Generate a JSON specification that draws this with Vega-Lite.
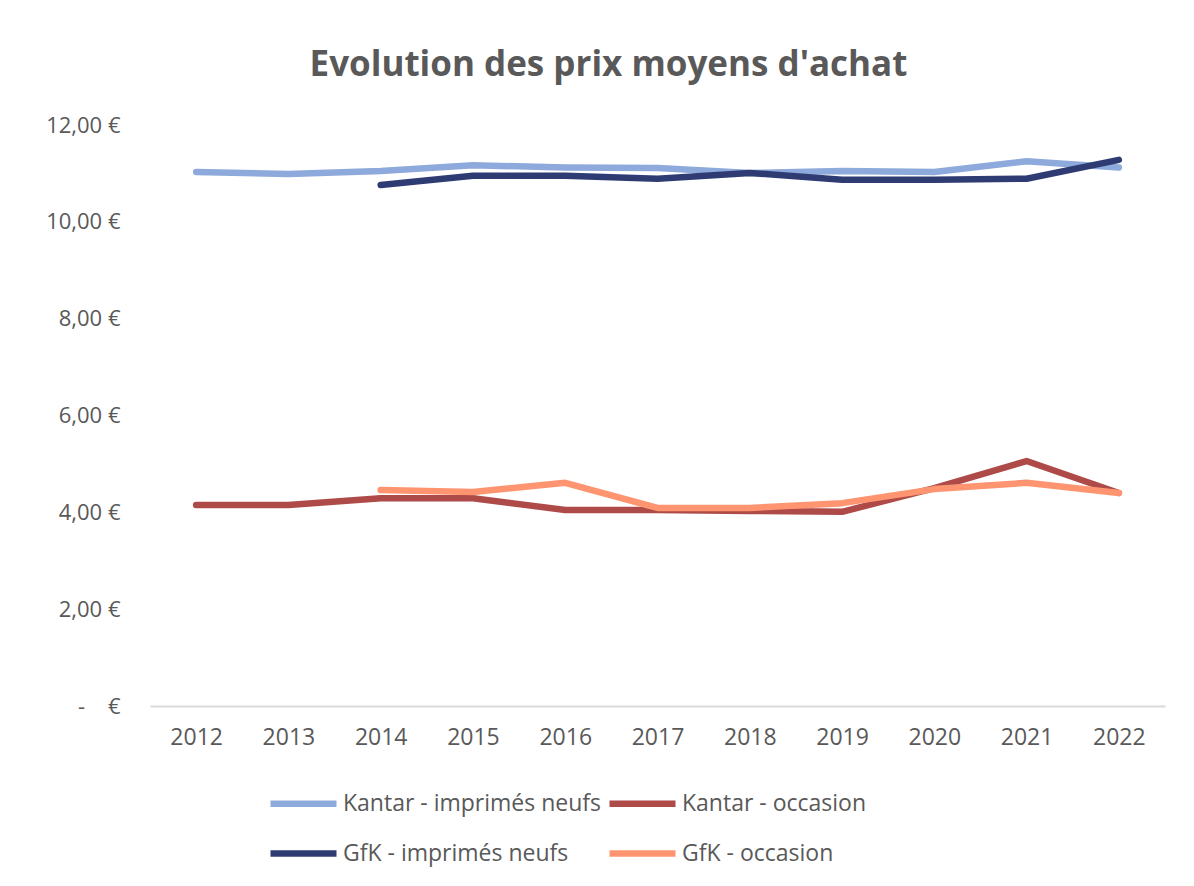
{
  "$schema": "https://vega.github.io/schema/vega-lite/v6.json",
  "autosize": {"type": "none"},
  "width": 1015,
  "height": 581,
  "padding": {"left": 150, "top": 125, "right": 29, "bottom": 180},
  "background": "white",
  "title": {
    "text": "Evolution des prix moyens d'achat",
    "font": "Open Sans",
    "fontSize": 35,
    "fontWeight": "bold",
    "color": "#595959",
    "anchor": "middle",
    "dx": -49,
    "offset": 31
  },
  "config": {
    "view": {"stroke": null},
    "font": "Open Sans"
  },
  "data": {
    "values": [
      {"year": "2012", "series": "Kantar - imprimés neufs", "value": 11.03},
      {"year": "2013", "series": "Kantar - imprimés neufs", "value": 10.99},
      {"year": "2014", "series": "Kantar - imprimés neufs", "value": 11.05},
      {"year": "2015", "series": "Kantar - imprimés neufs", "value": 11.17},
      {"year": "2016", "series": "Kantar - imprimés neufs", "value": 11.12},
      {"year": "2017", "series": "Kantar - imprimés neufs", "value": 11.11},
      {"year": "2018", "series": "Kantar - imprimés neufs", "value": 11.01},
      {"year": "2019", "series": "Kantar - imprimés neufs", "value": 11.05},
      {"year": "2020", "series": "Kantar - imprimés neufs", "value": 11.03},
      {"year": "2021", "series": "Kantar - imprimés neufs", "value": 11.25},
      {"year": "2022", "series": "Kantar - imprimés neufs", "value": 11.12},
      {"year": "2012", "series": "Kantar - occasion", "value": 4.15},
      {"year": "2013", "series": "Kantar - occasion", "value": 4.15},
      {"year": "2014", "series": "Kantar - occasion", "value": 4.29},
      {"year": "2015", "series": "Kantar - occasion", "value": 4.29},
      {"year": "2016", "series": "Kantar - occasion", "value": 4.05},
      {"year": "2017", "series": "Kantar - occasion", "value": 4.05},
      {"year": "2018", "series": "Kantar - occasion", "value": 4.03},
      {"year": "2019", "series": "Kantar - occasion", "value": 4.01},
      {"year": "2020", "series": "Kantar - occasion", "value": 4.5},
      {"year": "2021", "series": "Kantar - occasion", "value": 5.06},
      {"year": "2022", "series": "Kantar - occasion", "value": 4.4},
      {"year": "2014", "series": "GfK - imprimés neufs", "value": 10.76},
      {"year": "2015", "series": "GfK - imprimés neufs", "value": 10.95},
      {"year": "2016", "series": "GfK - imprimés neufs", "value": 10.95},
      {"year": "2017", "series": "GfK - imprimés neufs", "value": 10.89},
      {"year": "2018", "series": "GfK - imprimés neufs", "value": 11.01},
      {"year": "2019", "series": "GfK - imprimés neufs", "value": 10.87},
      {"year": "2020", "series": "GfK - imprimés neufs", "value": 10.87},
      {"year": "2021", "series": "GfK - imprimés neufs", "value": 10.89},
      {"year": "2022", "series": "GfK - imprimés neufs", "value": 11.28},
      {"year": "2014", "series": "GfK - occasion", "value": 4.46},
      {"year": "2015", "series": "GfK - occasion", "value": 4.42},
      {"year": "2016", "series": "GfK - occasion", "value": 4.61},
      {"year": "2017", "series": "GfK - occasion", "value": 4.09},
      {"year": "2018", "series": "GfK - occasion", "value": 4.09},
      {"year": "2019", "series": "GfK - occasion", "value": 4.19},
      {"year": "2020", "series": "GfK - occasion", "value": 4.48},
      {"year": "2021", "series": "GfK - occasion", "value": 4.61},
      {"year": "2022", "series": "GfK - occasion", "value": 4.4}
    ]
  },
  "mark": {"type": "line", "strokeWidth": 6.5, "strokeCap": "round", "strokeJoin": "round"},
  "encoding": {
    "x": {
      "field": "year",
      "type": "ordinal",
      "scale": {"type": "point", "padding": 0.5},
      "axis": {
        "title": null,
        "labelAngle": 0,
        "ticks": false,
        "domainColor": "#D9D9D9",
        "domainWidth": 2,
        "labelFontSize": 23,
        "labelColor": "#595959",
        "labelPadding": 20,
        "labelFont": "Open Sans"
      }
    },
    "y": {
      "field": "value",
      "type": "quantitative",
      "scale": {"domain": [0, 12], "nice": false},
      "axis": {
        "title": null,
        "values": [0, 2, 4, 6, 8, 10, 12],
        "grid": false,
        "domain": false,
        "ticks": false,
        "labelFontSize": 22,
        "labelColor": "#595959",
        "labelPadding": 30,
        "labelExpr": "datum.value == 0 ? '-\u00a0\u00a0\u00a0\u00a0€' : replace(format(datum.value, '.2f'), '.', ',') + ' €'"
      }
    },
    "color": {
      "field": "series",
      "type": "nominal",
      "sort": ["Kantar - imprimés neufs", "Kantar - occasion", "GfK - imprimés neufs", "GfK - occasion"],
      "scale": {
        "domain": ["Kantar - imprimés neufs", "Kantar - occasion", "GfK - imprimés neufs", "GfK - occasion"],
        "range": ["#8EA9DB", "#AE4A48", "#2F3C73", "#FF9470"]
      },
      "legend": {
        "title": null,
        "orient": "none",
        "legendX": 117,
        "legendY": 642,
        "columns": 2,
        "direction": "horizontal",
        "symbolType": "stroke",
        "symbolSize": 4356,
        "symbolStrokeWidth": 6.5,
        "labelFontSize": 23,
        "labelColor": "#595959",
        "labelOffset": 3,
        "columnPadding": -6,
        "rowPadding": -15,
        "padding": 0,
        "labelLimit": 400
      }
    },
    "order": {"field": "year"}
  }
}
